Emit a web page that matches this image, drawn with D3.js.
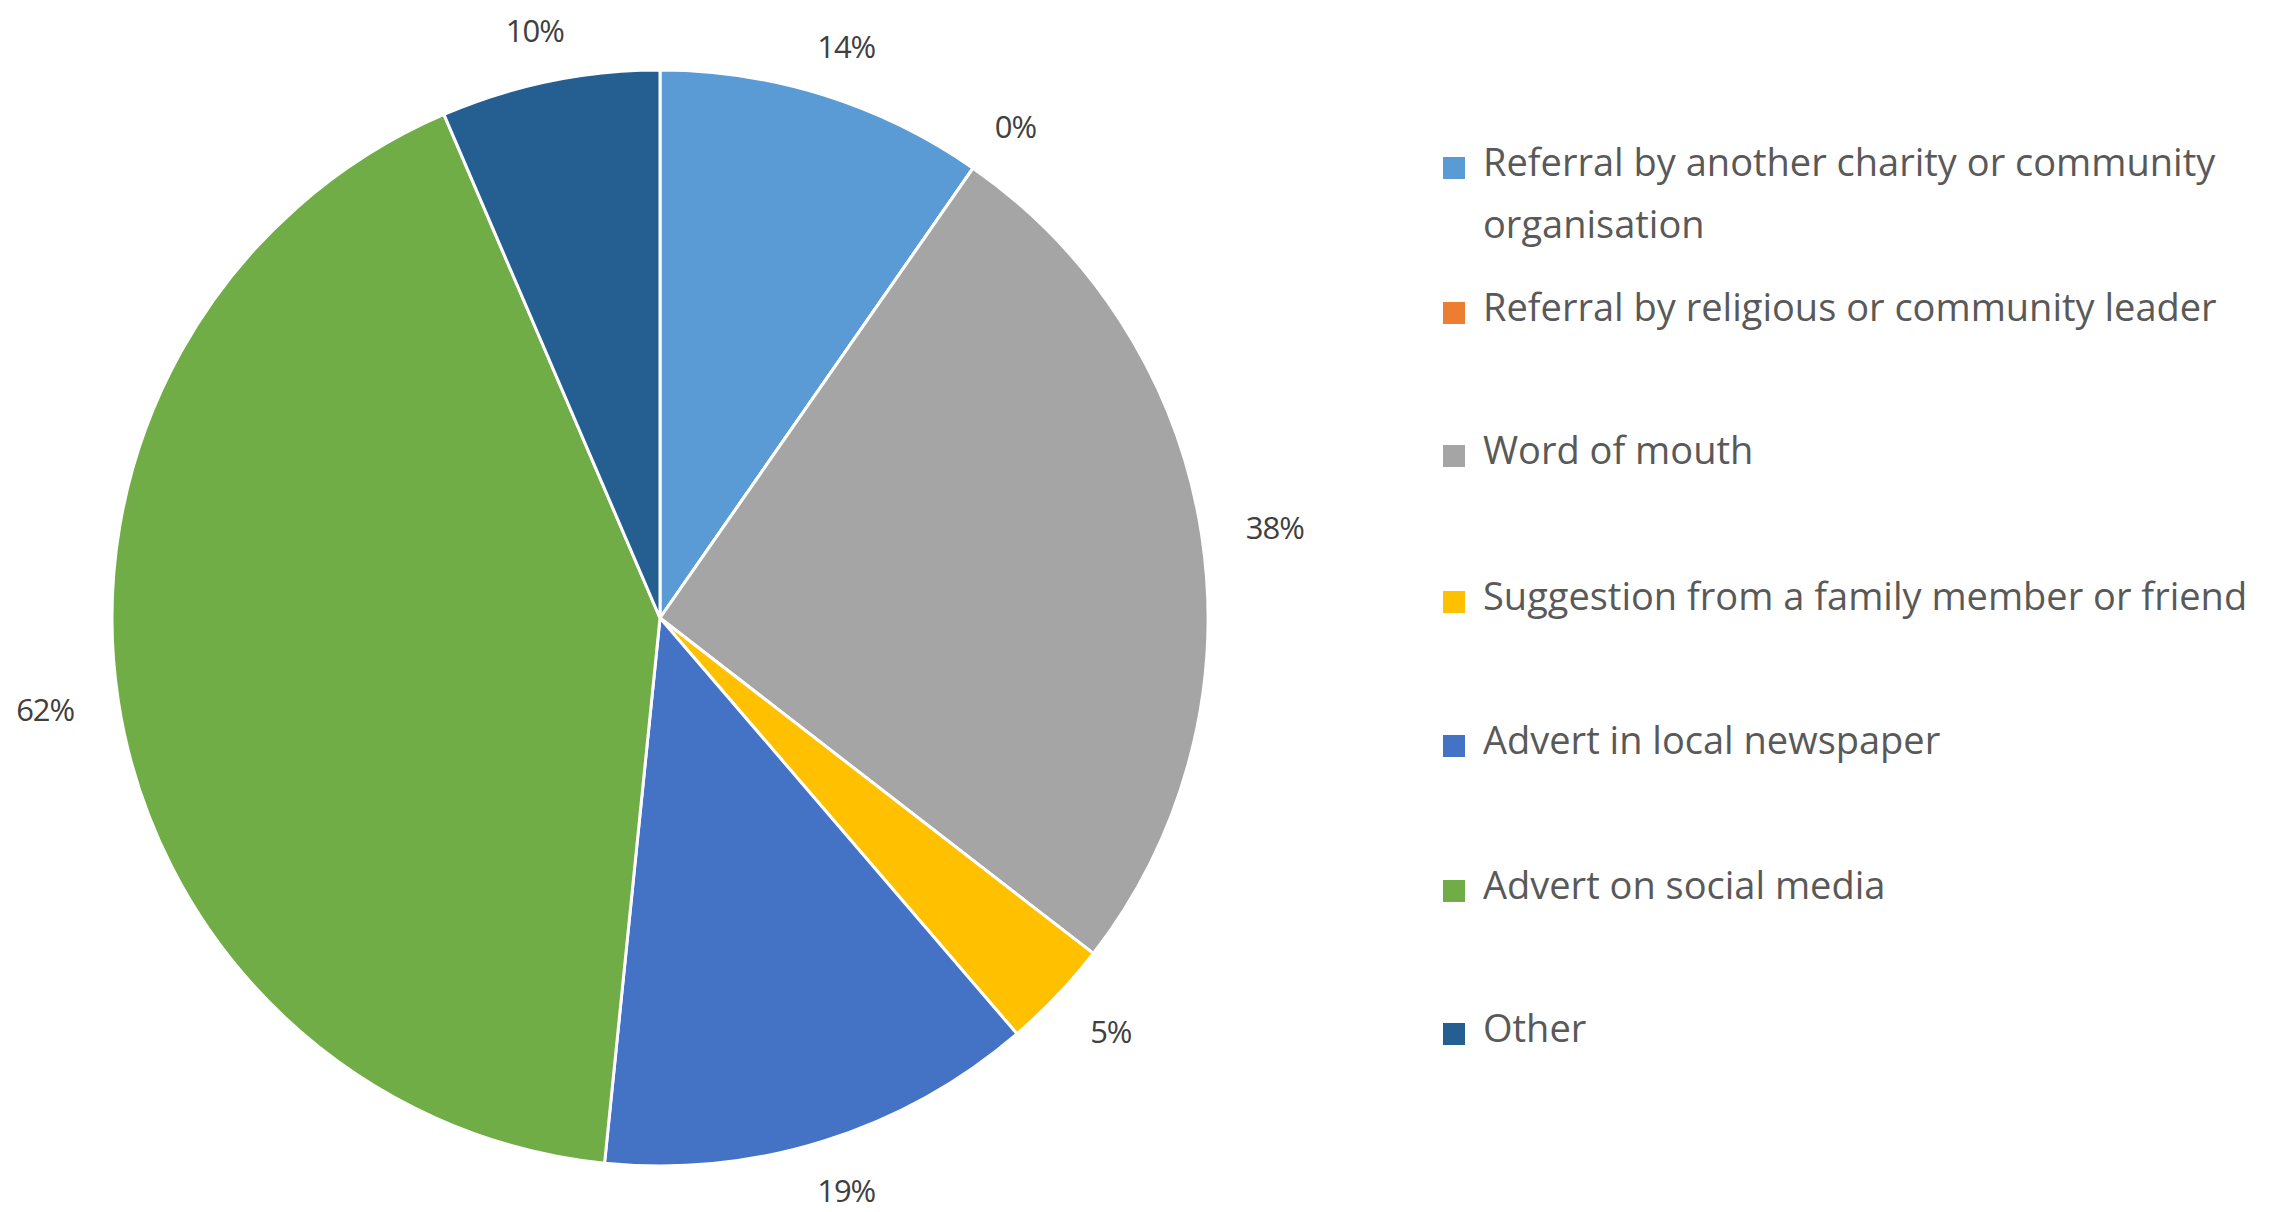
<!DOCTYPE html>
<html><head><meta charset="utf-8">
<script src="https://cdn.jsdelivr.net/npm/d3@7"></script>
<style>html,body{margin:0;padding:0;background:#fff;}</style>
</head><body>
<svg id="chart" width="2271" height="1212"></svg>
<script>
const categories = [
  "Referral by another charity or community organisation",
  "Referral by religious or community leader",
  "Word of mouth",
  "Suggestion from a family member or friend",
  "Advert in local newspaper",
  "Advert on social media",
  "Other"
];
// respondent counts (of 21)
const values = [3, 0, 8, 1, 4, 13, 2];
const labels = ["14%", "0%", "38%", "5%", "19%", "62%", "10%"];
const colors = ["#5B9BD5", "#ED7D31", "#A5A5A5", "#FFC000", "#4472C4", "#70AD47", "#255E91"];
const legendLines = [
  ["Referral by another charity or community", "organisation"],
  ["Referral by religious or community leader"],
  ["Word of mouth"],
  ["Suggestion from a family member or friend"],
  ["Advert in local newspaper"],
  ["Advert on social media"],
  ["Other"]
];
const legendRowY = [161, 306, 449, 595, 739, 884, 1027];

const svg = d3.select("#chart");
const cx = 660, cy = 618, R = 548;
const labelRx = 622, labelRy = 600;
const font = "'Open Sans', Lato, sans-serif";

const pie = d3.pie().value(d => d).sort(null);
const arcs = pie(values);
const arc = d3.arc().innerRadius(0).outerRadius(R);

const g = svg.append("g").attr("transform", `translate(${cx},${cy})`);
g.selectAll("path").data(arcs).join("path")
  .attr("d", arc)
  .attr("fill", (d, i) => colors[i])
  .attr("stroke", "#fff")
  .attr("stroke-width", 3)
  .attr("stroke-linejoin", "round");

g.selectAll("text.lbl").data(arcs).join("text")
  .attr("class", "lbl")
  .attr("transform", d => {
    const a = (d.startAngle + d.endAngle) / 2;
    return `translate(${labelRx * Math.sin(a)},${-labelRy * Math.cos(a)})`;
  })
  .attr("text-anchor", "middle")
  .attr("dominant-baseline", "central")
  .attr("font-family", font)
  .attr("font-size", 31)
  .attr("letter-spacing", -1)
  .attr("fill", "#404040")
  .text((d, i) => labels[i]);

// legend
const items = svg.append("g").selectAll("g.item").data(categories).join("g")
  .attr("class", "item")
  .attr("transform", (d, i) => `translate(1443,${legendRowY[i]})`);
items.append("rect")
  .attr("x", 0).attr("y", -4).attr("width", 22).attr("height", 22)
  .attr("fill", (d, i) => colors[i]);
items.each(function (d, i) {
  const t = d3.select(this).append("text")
    .attr("x", 40)
    .attr("font-family", font)
    .attr("font-size", 38)
    .attr("fill", "#595959")
    .attr("dominant-baseline", "central");
  legendLines[i].forEach((ln, j) => {
    t.append("tspan").attr("x", 40).attr("dy", j === 0 ? 0 : 62).text(ln);
  });
});
</script>
</body></html>
